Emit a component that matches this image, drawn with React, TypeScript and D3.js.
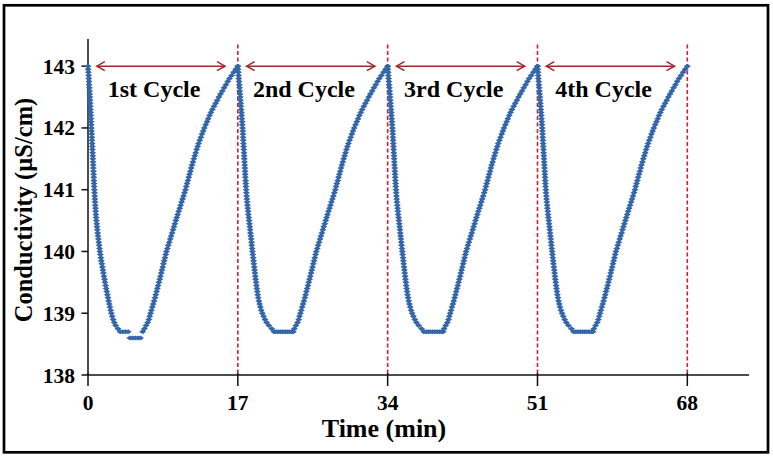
import React from "react";
import * as d3 from "d3";

// ---- data ----
const cycleStarts = [0, 17, 34, 51];
const cycleLength = 17;
const cycleLabels = ["1st Cycle", "2nd Cycle", "3rd Cycle", "4th Cycle"];
const xTicks = [0, 17, 34, 51, 68];
const yTicks = [138, 139, 140, 141, 142, 143];
const boundaries = [17, 34, 51, 68];

// conductivity levels logged while falling (µS/cm)
const fallLevels = [
  143.0, 142.95, 142.9, 142.85, 142.8, 142.75, 142.7, 142.65, 142.6, 142.55,
  142.5, 142.45, 142.4, 142.35, 142.3, 142.25, 142.2, 142.15, 142.1, 142.05,
  142.0, 141.95, 141.9, 141.85, 141.8, 141.75, 141.7, 141.65, 141.6, 141.55,
  141.5, 141.45, 141.4, 141.35, 141.3, 141.25, 141.2, 141.15, 141.1, 141.05,
  141.0, 140.95, 140.9, 140.85, 140.8, 140.75, 140.7, 140.65, 140.6, 140.55,
  140.5, 140.45, 140.4, 140.35, 140.3, 140.25, 140.2, 140.15, 140.1, 140.05,
  140.0, 139.95, 139.9, 139.85, 139.8, 139.75, 139.7, 139.65, 139.6, 139.55,
  139.5, 139.45, 139.4, 139.35, 139.3, 139.25, 139.2, 139.15, 139.1, 139.05,
  139.0, 138.95, 138.9, 138.85, 138.8, 138.75,
];
// minutes into the cycle at which each falling level was logged
const fallTimesCycle1 = [
  0.0, 0.02, 0.05, 0.07, 0.09, 0.11, 0.13, 0.16, 0.18, 0.2,
  0.22, 0.24, 0.25, 0.27, 0.29, 0.3, 0.32, 0.34, 0.35, 0.37,
  0.39, 0.4, 0.42, 0.44, 0.45, 0.47, 0.49, 0.5, 0.52, 0.54,
  0.55, 0.57, 0.59, 0.6, 0.62, 0.64, 0.65, 0.67, 0.69, 0.7,
  0.72, 0.74, 0.76, 0.78, 0.8, 0.82, 0.85, 0.87, 0.89, 0.92,
  0.95, 0.99, 1.02, 1.06, 1.1, 1.14, 1.18, 1.22, 1.27, 1.31,
  1.35, 1.4, 1.46, 1.51, 1.57, 1.63, 1.69, 1.75, 1.81, 1.87,
  1.93, 2.0, 2.06, 2.13, 2.2, 2.27, 2.34, 2.42, 2.49, 2.57,
  2.65, 2.74, 2.85, 2.98, 3.14, 3.4,
];
const fallTimesLater = [
  0.0, 0.03, 0.06, 0.08, 0.11, 0.14, 0.17, 0.2, 0.22, 0.25,
  0.28, 0.3, 0.33, 0.35, 0.38, 0.41, 0.43, 0.46, 0.49, 0.51,
  0.54, 0.56, 0.58, 0.6, 0.62, 0.64, 0.66, 0.68, 0.7, 0.72,
  0.74, 0.76, 0.78, 0.8, 0.82, 0.84, 0.86, 0.88, 0.9, 0.92,
  0.95, 0.97, 1.0, 1.03, 1.06, 1.1, 1.13, 1.17, 1.2, 1.24,
  1.28, 1.32, 1.36, 1.4, 1.43, 1.47, 1.51, 1.55, 1.58, 1.62,
  1.66, 1.7, 1.74, 1.78, 1.82, 1.86, 1.9, 1.94, 1.98, 2.02,
  2.07, 2.11, 2.16, 2.21, 2.26, 2.32, 2.39, 2.47, 2.56, 2.66,
  2.78, 2.92, 3.08, 3.27, 3.52, 3.85,
];

// minimum plateau
const bottomTimesCycle1 = [3.65, 3.95, 4.25, 4.55, 4.75, 5.05, 5.35, 5.65, 5.95, 6.2];
const bottomLevelsCycle1 = [138.7, 138.7, 138.7, 138.7, 138.6, 138.6, 138.6, 138.6, 138.6, 138.7];
const bottomTimesLater = [4.1, 4.35, 4.6, 4.85, 5.1, 5.35, 5.6, 5.85, 6.1, 6.3];
const bottomLevelsLater = [138.7, 138.7, 138.7, 138.7, 138.7, 138.7, 138.7, 138.7, 138.7, 138.7];

// conductivity levels logged while rising
const riseLevels = [
  138.75, 138.8, 138.85, 138.9, 138.95, 139.0,
  139.05, 139.1, 139.15, 139.2, 139.25, 139.3, 139.35, 139.4, 139.45, 139.5,
  139.55, 139.6, 139.65, 139.7, 139.75, 139.8, 139.85, 139.9, 139.95, 140.0,
  140.05, 140.1, 140.15, 140.2, 140.25, 140.3, 140.35, 140.4, 140.45, 140.5,
  140.55, 140.6, 140.65, 140.7, 140.75, 140.8, 140.85, 140.9, 140.95, 141.0,
  141.05, 141.1, 141.15, 141.2, 141.25, 141.3, 141.35, 141.4, 141.45, 141.5,
  141.55, 141.6, 141.65, 141.7, 141.75, 141.8, 141.85, 141.9, 141.95, 142.0,
  142.05, 142.1, 142.15, 142.2, 142.25, 142.3, 142.35, 142.4, 142.45, 142.5,
  142.55, 142.6, 142.65, 142.7, 142.75, 142.8, 142.85, 142.9, 142.95, 143.0,
];
const riseTimes = [
  6.4, 6.59, 6.78, 6.91, 7.0, 7.1,
  7.2, 7.3, 7.4, 7.5, 7.6, 7.69, 7.78, 7.87, 7.96, 8.05,
  8.14, 8.22, 8.31, 8.39, 8.48, 8.56, 8.65, 8.73, 8.82, 8.9,
  9.01, 9.11, 9.22, 9.33, 9.43, 9.54, 9.65, 9.75, 9.86, 9.97,
  10.07, 10.18, 10.29, 10.4, 10.51, 10.62, 10.73, 10.84, 10.95, 11.06,
  11.15, 11.24, 11.34, 11.43, 11.52, 11.62, 11.71, 11.8, 11.91, 12.01,
  12.12, 12.22, 12.33, 12.44, 12.55, 12.68, 12.81, 12.94, 13.07, 13.2,
  13.35, 13.5, 13.64, 13.79, 13.94, 14.11, 14.3, 14.48, 14.67, 14.85,
  15.04, 15.24, 15.44, 15.65, 15.85, 16.05, 16.29, 16.53, 16.76, 17.0,
];

const FONT = "'Liberation Serif', 'Times New Roman', serif";
const BLUE = "#3366AA";

type Pt = { t: number; v: number };

function buildPoints(): Pt[] {
  const pts: Pt[] = [];
  cycleStarts.forEach((s, i) => {
    const fall = i === 0 ? fallTimesCycle1 : fallTimesLater;
    const bt = i === 0 ? bottomTimesCycle1 : bottomTimesLater;
    const bl = i === 0 ? bottomLevelsCycle1 : bottomLevelsLater;
    fall.forEach((t, k) => pts.push({ t: s + t, v: fallLevels[k] }));
    bt.forEach((t, k) => pts.push({ t: s + t, v: bl[k] }));
    riseTimes.forEach((t, k) => pts.push({ t: s + t, v: riseLevels[k] }));
  });
  return pts;
}

export default function App() {
  const W = 773;
  const H = 458;
  const x = d3.scaleLinear().domain([0, 75]).range([88, 749]);
  const y = d3.scaleLinear().domain([138, 143.44]).range([375, 39]);
  const pts = buildPoints();
  const diamond = "M0,-2.5L3.5,0L0,2.5L-3.5,0Z";
  const arrowColor = "#A3282B";
  const y0 = y(138);
  const xl = x(0);

  return (
    <svg
      width={W}
      height={H}
      style={{ position: "absolute", left: 0, top: 0, background: "#fff" }}
      fontFamily={FONT}
    >
      <rect x={0} y={0} width={W} height={H} fill="#fff" />
      <rect x={4} y={5.3} width={764} height={447} fill="none" stroke="#000" strokeWidth={2.7} />

      {/* dashed cycle boundaries */}
      {boundaries.map((b) => (
        <line
          key={"d" + b}
          x1={x(b)}
          x2={x(b)}
          y1={y(143.35)}
          y2={y0}
          stroke="#D0202E"
          strokeWidth={1.6}
          strokeDasharray="4 2.5"
        />
      ))}

      {/* axes */}
      <line x1={xl} x2={x(75)} y1={y0} y2={y0} stroke="#111" strokeWidth={1.5} />
      <line x1={xl} x2={xl} y1={y0} y2={y(143.44)} stroke="#111" strokeWidth={1.5} />
      {xTicks.map((t) => (
        <g key={"xt" + t}>
          <line x1={x(t)} x2={x(t)} y1={y0 - 2} y2={y0 + 11} stroke="#111" strokeWidth={1.5} />
          <text x={x(t)} y={410} textAnchor="middle" fontSize={21.5} fontWeight="bold" fill="#000">
            {t}
          </text>
        </g>
      ))}
      {yTicks.map((v) => (
        <g key={"yt" + v}>
          <line x1={xl - 6.5} x2={xl} y1={y(v)} y2={y(v)} stroke="#111" strokeWidth={1.5} />
          <text x={75} y={y(v)} dy="0.35em" textAnchor="end" fontSize={21.5} fontWeight="bold" fill="#000">
            {v}
          </text>
        </g>
      ))}

      {/* axis titles */}
      <text x={384} y={437} textAnchor="middle" fontSize={26} fontWeight="bold" fill="#000">
        Time (min)
      </text>
      <text
        transform={`translate(32,210) rotate(-90)`}
        textAnchor="middle"
        fontSize={24.5}
        fontWeight="bold"
        fill="#000"
      >
        Conductivity (µS/cm)
      </text>

      {/* cycle arrows and labels */}
      {cycleStarts.map((s, i) => {
        const a = x(s + 1.0);
        const b = x(s + cycleLength - 1.45);
        const yy = y(143);
        return (
          <g key={"c" + i}>
            <line x1={a} x2={b} y1={yy} y2={yy} stroke={arrowColor} strokeWidth={1.5} />
            <polyline
              points={`${a + 8},${yy - 4.5} ${a},${yy} ${a + 8},${yy + 4.5}`}
              fill="none"
              stroke={arrowColor}
              strokeWidth={1.5}
            />
            <polyline
              points={`${b - 8},${yy - 4.5} ${b},${yy} ${b - 8},${yy + 4.5}`}
              fill="none"
              stroke={arrowColor}
              strokeWidth={1.5}
            />
            <text
              x={x(s + 7.5)}
              y={y(142.5)}
              textAnchor="middle"
              fontSize={24}
              fontWeight="bold"
              fill="#000"
            >
              {cycleLabels[i]}
            </text>
          </g>
        );
      })}

      {/* data points */}
      <g fill={BLUE}>
        {pts.map((p, i) => (
          <path key={i} d={diamond} transform={`translate(${x(p.t)},${y(p.v)})`} />
        ))}
      </g>
    </svg>
  );
}
